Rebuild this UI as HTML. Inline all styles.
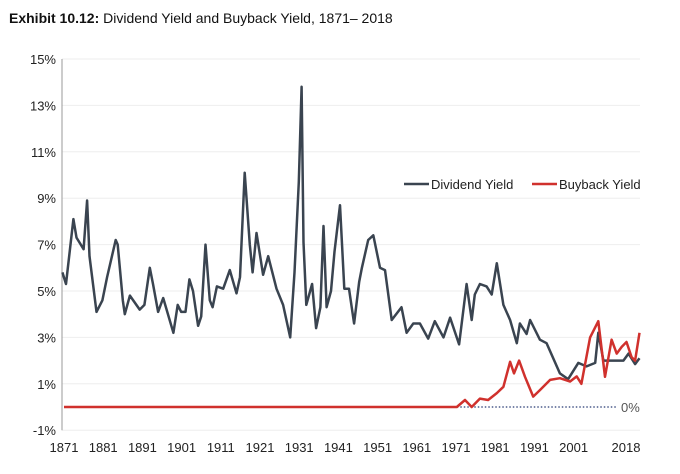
<!DOCTYPE html>
<html><head><meta charset="utf-8">
<style>
body{margin:0;background:#fff;font-family:"Liberation Sans",Arial,sans-serif;}
svg{display:block}
</style></head>
<body>
<svg id="chart" width="680" height="474" viewBox="0 0 680 474">
<text x="9" y="23" font-size="14" fill="#111"><tspan font-weight="bold">Exhibit 10.12:</tspan> Dividend Yield and Buyback Yield, 1871– 2018</text>
<g id="grid"></g><g id="yax"></g><g id="xax"></g><g id="series"></g>
<g>
<line x1="404" y1="184" x2="429" y2="184" stroke="#3a4450" stroke-width="2.5"/>
<text x="431" y="189" font-size="13" fill="#222">Dividend Yield</text>
<line x1="532" y1="184" x2="557" y2="184" stroke="#d0312d" stroke-width="2.5"/>
<text x="559" y="189" font-size="13" fill="#222">Buyback Yield</text>
</g>
</svg>
<script>
const yTicks=[15,13,11,9,7,5,3,1,-1];
const xTickYears=[1871,1881,1891,1901,1911,1921,1931,1941,1951,1961,1971,1981,1991,2001,2018];
const divYears=[1870.6,1871.5,1873.4,1874.2,1876,1876.9,1877.5,1879.3,1880.8,1882,1884.2,1884.7,1886,1886.5,1887.8,1890.3,1891.5,1892.9,1893.7,1895,1896.3,1898.9,1900,1900.9,1902,1903,1903.9,1905.2,1906,1907.1,1908.2,1908.9,1910,1911.6,1913.3,1915,1915.9,1917.1,1918.4,1919.1,1920.1,1921.8,1923.1,1925.2,1926.9,1928.7,1929.8,1930.9,1931.6,1932.1,1932.8,1934.3,1935.3,1936.4,1937.2,1938,1939.1,1940,1941.4,1942.5,1943.7,1945,1946.3,1947,1948.6,1949.9,1951.6,1952.9,1954.6,1957.1,1958.4,1960.1,1961.8,1963.9,1965.6,1967.8,1969.5,1971.8,1973.7,1975,1975.8,1977.1,1978.8,1980.1,1981.4,1983.1,1984.8,1986.5,1987.3,1989,1989.9,1992.4,1994.1,1997.5,1999.6,2002.2,2004.3,2006.5,2007.3,2008.6,2011.1,2013.7,2015,2016.7,2017.8];
const divValues=[5.8,5.3,8.1,7.3,6.8,8.9,6.5,4.1,4.6,5.6,7.2,7.0,4.6,4.0,4.8,4.2,4.4,6.0,5.3,4.1,4.7,3.2,4.4,4.1,4.1,5.5,5.0,3.5,3.9,7.0,4.6,4.3,5.2,5.1,5.9,4.9,5.6,10.1,7.0,5.8,7.5,5.7,6.5,5.1,4.4,3.0,5.8,9.7,13.8,7.1,4.4,5.3,3.4,4.3,7.8,4.3,5.0,6.7,8.7,5.1,5.1,3.6,5.4,6.0,7.2,7.4,6.0,5.9,3.75,4.3,3.2,3.6,3.6,2.95,3.7,3.0,3.85,2.7,5.3,3.75,4.85,5.3,5.2,4.85,6.2,4.4,3.75,2.75,3.6,3.15,3.75,2.9,2.75,1.45,1.2,1.9,1.75,1.9,3.2,2.0,2.0,2.0,2.3,1.85,2.1];
const bbYears=[1871,1971.2,1973.3,1975,1977.1,1979.2,1981.4,1983.1,1984.8,1985.8,1987.1,1988.6,1990.7,1992.4,1995,1997.5,2000.1,2001.8,2003,2005.2,2007.3,2009,2010.7,2012,2013.3,2014.5,2015.8,2016.7,2017.8];
const bbValues=[0,0,0.3,0,0.36,0.3,0.6,0.87,1.95,1.45,2.0,1.3,0.45,0.73,1.17,1.24,1.1,1.32,1.0,3.0,3.7,1.3,2.9,2.3,2.6,2.8,2.15,2.0,3.2];

const NS="http://www.w3.org/2000/svg";
const X=y=>64+(y-1871)*3.92;
const Y=v=>407-v*23.2;
function mk(tag,attrs,parent){const e=document.createElementNS(NS,tag);for(const k in attrs)e.setAttribute(k,attrs[k]);document.getElementById(parent).appendChild(e);return e;}
yTicks.forEach(t=>{
  const g=mk('line',{x1:62,x2:640,y1:Y(t),y2:Y(t),stroke:'#eeeeee','stroke-width':1},'grid');
  
  
  const tx=mk('text',{x:56,y:Y(t)+5,'font-size':13,fill:'#222','text-anchor':'end'},'yax');
  tx.textContent=t+'%';
  
  
});
const ax=mk('line',{x1:62,x2:62,y1:Y(15),y2:Y(-1),stroke:'#999','stroke-width':1},'yax');


xTickYears.forEach((yr,i)=>{
  const px=i===xTickYears.length-1?626:X(yr);
  const tx=mk('text',{x:px,y:452,'font-size':13,fill:'#222','text-anchor':'middle'},'xax');
  tx.textContent=yr;
  
  
});
const zl=mk('line',{x1:X(1971.2),x2:616,y1:Y(0),y2:Y(0),stroke:'#4a5a8a','stroke-width':1.5,'stroke-dasharray':'1.5 2'},'series');


const zt=mk('text',{x:621,y:Y(0)+5,'font-size':13,fill:'#555'},'series');
zt.textContent='0%';


const pts=(xs,vs)=>xs.map((x,i)=>X(x).toFixed(1)+','+Y(vs[i]).toFixed(1)).join(' ');
const dl=mk('polyline',{points:pts(divYears,divValues),fill:'none',stroke:'#3a4450','stroke-width':2.5,'stroke-linejoin':'round'},'series');


const bl=mk('polyline',{points:pts(bbYears,bbValues),fill:'none',stroke:'#d0312d','stroke-width':2.5,'stroke-linejoin':'round'},'series');


</script>
</body></html>
